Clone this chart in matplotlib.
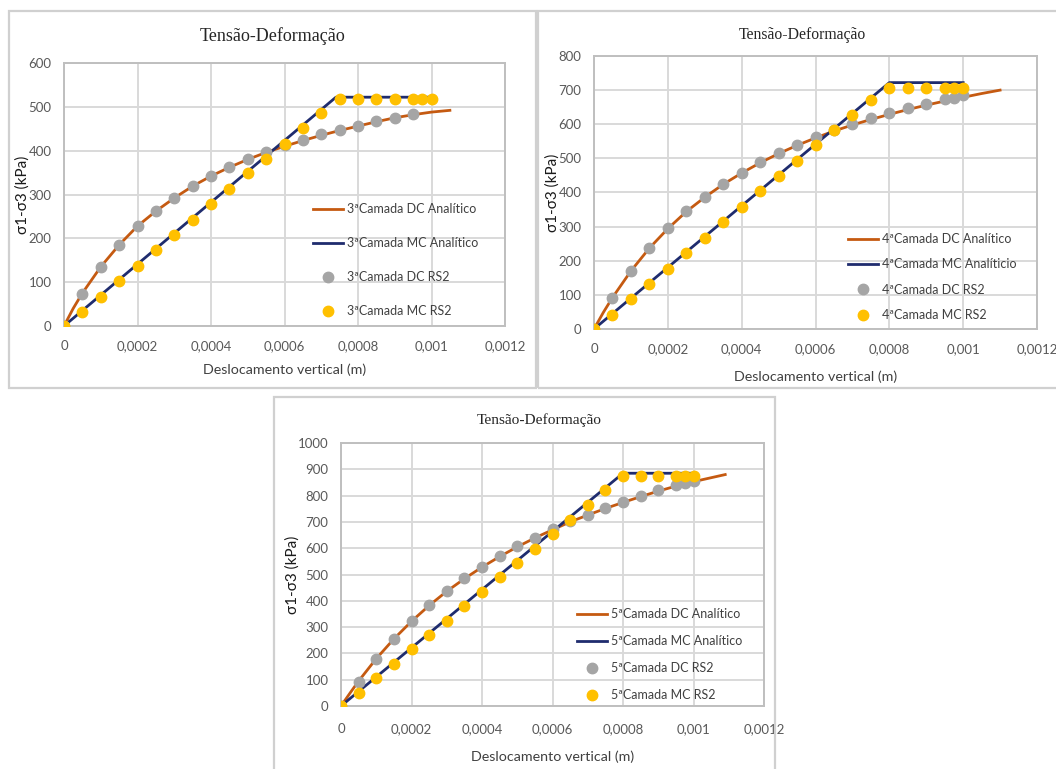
import matplotlib.pyplot as plt
from matplotlib.patches import Rectangle

plt.rcParams['font.family'] = ['Lato', 'DejaVu Sans']

# 3a camada
x_rs2 = [0, 0.00005, 0.0001, 0.00015, 0.0002, 0.00025, 0.0003, 0.00035, 0.0004, 0.00045,
         0.0005, 0.00055, 0.0006, 0.00065, 0.0007, 0.00075, 0.0008, 0.00085, 0.0009, 0.00095]
c3_dc_rs2 = [0, 73, 135, 185, 228, 262, 293, 320, 342, 363,
             381, 398, 412, 425, 437, 448, 457, 468, 475, 483]
c3_mc_x = x_rs2 + [0.000975, 0.001]
c3_mc_rs2 = [0, 32, 67, 103, 137, 173, 207, 242, 278, 312,
             348, 382, 416, 452, 487, 518, 519, 518, 518, 518, 518, 518]
c3_dc_line_x = [0, 0.000025, 0.00005, 0.0001, 0.00015, 0.0002, 0.00025, 0.0003, 0.00035, 0.0004,
                0.00045, 0.0005, 0.00055, 0.0006, 0.00065, 0.0007, 0.00075, 0.0008, 0.00085,
                0.0009, 0.00095, 0.001, 0.00105]
c3_dc_line = [0, 40, 75, 135, 185, 228, 262, 292, 319, 342,
              362, 380, 396, 410, 423, 435, 446, 456, 466, 475, 482, 488, 492]
c3_mc_line_x = [0, 0.00074, 0.001]
c3_mc_line = [0, 522, 522]

# 4a camada
c4_dc_x = x_rs2 + [0.000975, 0.001]
c4_dc_rs2 = [0, 90, 170, 237, 295, 345, 387, 425, 458, 488,
             515, 540, 563, 583, 600, 618, 633, 648, 660, 675, 678, 685]
c4_mc_x = x_rs2 + [0.000975, 0.001]
c4_mc_rs2 = [0, 42, 88, 133, 177, 223, 268, 313, 358, 403,
             447, 492, 538, 582, 627, 672, 705, 705, 705, 705, 705, 705]
c4_dc_line_x = [0, 0.000025, 0.00005, 0.0001, 0.00015, 0.0002, 0.00025, 0.0003, 0.00035, 0.0004,
                0.00045, 0.0005, 0.00055, 0.0006, 0.00065, 0.0007, 0.00075, 0.0008, 0.00085,
                0.0009, 0.00095, 0.001, 0.00105, 0.0011]
c4_dc_line = [0, 48, 92, 170, 237, 294, 344, 386, 424, 457,
              487, 514, 538, 560, 580, 598, 614, 629, 643, 656, 668, 679, 690, 700]
c4_mc_line_x = [0, 0.0008, 0.001]
c4_mc_line = [0, 722, 722]

# 5a camada
c5_dc_x = x_rs2 + [0.000975, 0.001]
c5_dc_rs2 = [0, 92, 180, 255, 323, 383, 437, 485, 530, 570,
             607, 640, 672, 702, 728, 752, 777, 800, 822, 840, 847, 855]
c5_mc_x = x_rs2 + [0.000975, 0.001]
c5_mc_rs2 = [0, 50, 105, 160, 217, 270, 325, 380, 435, 490,
             545, 598, 655, 708, 763, 820, 875, 875, 875, 875, 875, 875]
c5_dc_line_x = [0, 0.000025, 0.00005, 0.0001, 0.00015, 0.0002, 0.00025, 0.0003, 0.00035, 0.0004,
                0.00045, 0.0005, 0.00055, 0.0006, 0.00065, 0.0007, 0.00075, 0.0008, 0.00085,
                0.0009, 0.00095, 0.001, 0.00105, 0.00109]
c5_dc_line = [0, 48, 95, 180, 255, 322, 382, 436, 484, 528,
              568, 605, 639, 670, 700, 726, 751, 774, 796, 817, 836, 853, 868, 880]
c5_mc_line_x = [0, 0.0008, 0.001]
c5_mc_line = [0, 885, 885]

x_ticks = [0, 0.0002, 0.0004, 0.0006, 0.0008, 0.001, 0.0012]
x_tick_labels = ['0', '0,0002', '0,0004', '0,0006', '0,0008', '0,001', '0,0012']

ORANGE = '#C55A11'
NAVY = '#1F2C6E'
GRAY = '#A5A5A5'
YELLOW = '#FFC000'
GRID = '#D9D9D9'
TICK = '#595959'


def draw_panel(ax, n, dc_line, mc_line, dc_pts, mc_pts, ymax, mc_label,
               title_size, title_x, title_pad, leg_anchor, leg_spacing, xpad, xlabelpad):
    ax.plot(*dc_line, color=ORANGE, lw=2, label=f'{n}ªCamada DC Analítico', zorder=3)
    ax.plot(*mc_line, color=NAVY, lw=2, label=mc_label, zorder=3)
    ax.plot(*dc_pts, 'o', color=GRAY, ms=7.5, mec=GRAY, label=f'{n}ªCamada DC RS2', zorder=4)
    ax.plot(*mc_pts, 'o', color=YELLOW, ms=7.5, mec=YELLOW, label=f'{n}ªCamada MC RS2', zorder=5)

    ax.set_xlim(0, 0.0012)
    ax.set_ylim(0, ymax)
    ax.set_xticks(x_ticks)
    ax.set_xticklabels(x_tick_labels)
    ax.set_yticks(range(0, ymax + 1, 100))
    ax.tick_params(length=0, labelsize=9.5, colors=TICK)
    ax.tick_params(axis='x', pad=xpad)
    ax.tick_params(axis='y', pad=9)
    ax.grid(True, color=GRID, lw=1.4)
    ax.set_axisbelow(True)
    for s in ax.spines.values():
        s.set_color('#BFBFBF')
        s.set_linewidth(1.4)
    for lab in ax.get_xticklabels():
        lab.set_clip_on(False)

    ax.set_xlabel('Deslocamento vertical (m)', fontsize=10.3, color='#404040', labelpad=xlabelpad)
    ax.set_ylabel('σ1-σ3 (kPa)', fontsize=11, color='#1A1A1A', labelpad=-1)
    ax.set_title('Tensão-Deformação', family='Liberation Serif', fontsize=title_size,
                 color='#262626', x=title_x, pad=title_pad)

    leg = ax.legend(loc='center left', bbox_to_anchor=leg_anchor, frameon=False,
                    fontsize=9, handlelength=2.4, handletextpad=0.3,
                    labelspacing=leg_spacing, borderaxespad=0)
    for t in leg.get_texts():
        t.set_color('#404040')


fig = plt.figure(figsize=(10.56, 7.69), dpi=100)

# panel frames
for (x0, y0, x1, y1) in [(9, 11, 536, 388), (538, 11, 1060, 388), (274, 397, 775, 775)]:
    fig.patches.append(Rectangle((x0 / 1056, 1 - y1 / 769), (x1 - x0) / 1056, (y1 - y0) / 769,
                                 transform=fig.transFigure, fill=False,
                                 edgecolor='#D0D0D0', lw=1.6))

ax1 = fig.add_axes([64 / 1056, 1 - 326 / 769, 441 / 1056, 263 / 769])
draw_panel(ax1, 3, (c3_dc_line_x, c3_dc_line), (c3_mc_line_x, c3_mc_line),
           (x_rs2, c3_dc_rs2), (c3_mc_x, c3_mc_rs2), 600, '3ªCamada MC Analítico',
           13, 0.472, 16, (0.553, 0.25), 1.77, 10, 8)

ax2 = fig.add_axes([594 / 1056, 1 - 329 / 769, 443 / 1056, 273 / 769])
draw_panel(ax2, 4, (c4_dc_line_x, c4_dc_line), (c4_mc_line_x, c4_mc_line),
           (c4_dc_x, c4_dc_rs2), (c4_mc_x, c4_mc_rs2), 800, '4ªCamada MC Analíticio',
           11.3, 0.47, 12.5, (0.563, 0.19), 1.07, 10, 11)

ax3 = fig.add_axes([341 / 1056, 1 - 706 / 769, 423 / 1056, 263 / 769])
draw_panel(ax3, 5, (c5_dc_line_x, c5_dc_line), (c5_mc_line_x, c5_mc_line),
           (c5_dc_x, c5_dc_rs2), (c5_mc_x, c5_mc_rs2), 1000, '5ªCamada MC Analítico',
           11.1, 0.468, 14, (0.547, 0.195), 1.21, 12, 11.7)

fig.savefig('out.png', dpi=100)
